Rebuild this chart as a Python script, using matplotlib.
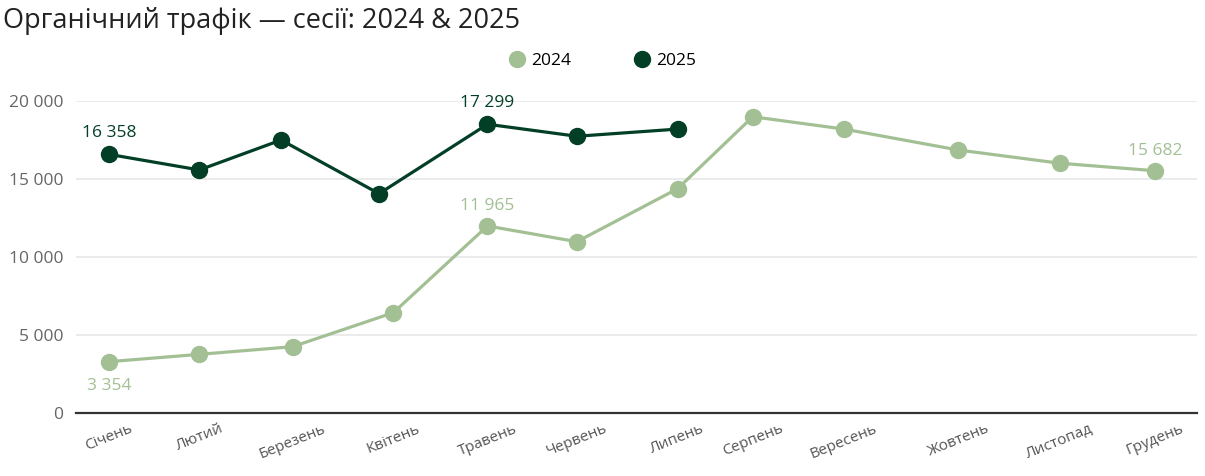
import matplotlib
matplotlib.use("Agg")
import matplotlib.pyplot as plt
from matplotlib.lines import Line2D
from matplotlib.ticker import FuncFormatter

plt.rcParams['font.family'] = ['Open Sans', 'DejaVu Sans']

# ---- data ----
months = ["Січень", "Лютий", "Березень", "Квітень", "Травень", "Червень",
          "Липень", "Серпень", "Вересень", "Жовтень", "Листопад", "Грудень"]
# position along the year (month units) at which each point was recorded
x2024 = [0.0, 0.95, 1.93, 2.99, 3.98, 4.92, 5.98, 6.77, 7.73, 8.93, 10.0, 11.0]
x2025 = [0.0, 0.95, 1.81, 2.84, 3.98, 4.92, 5.98]
s2024 = [3290, 3760, 4250, 6430, 11990, 10980, 14380, 18990, 18200, 16860, 16010, 15530]
s2025 = [16580, 15580, 17500, 14060, 18510, 17740, 18200]
# data labels shown on the chart (index, text)
lab2024_idx = [0, 4, 11]
lab2024_txt = ["3 354", "11 965", "15 682"]
lab2025_idx = [0, 4]
lab2025_txt = ["16 358", "17 299"]
yticks = [0, 5000, 10000, 15000, 20000]

c24 = "#a3c095"
c25 = "#023f26"

W, H = 1205, 476
fig = plt.figure(figsize=(W / 100, H / 100), dpi=100)
ax = fig.add_axes([76 / W, 1 - 413 / H, (1197 - 76) / W, (413 - 101) / H])

ax.plot(x2024, s2024, color=c24, lw=2.3, marker='o', ms=11.5, zorder=3, clip_on=False)
ax.plot(x2025, s2025, color=c25, lw=2.3, marker='o', ms=11.5, zorder=4, clip_on=False)

for i, t in zip(lab2024_idx, lab2024_txt):
    off = -24 if i == 0 else 20
    ax.annotate(t, (x2024[i], s2024[i]), xytext=(0, off * 0.72), textcoords='offset points',
                ha='center', va='center', color=c24, fontsize=12.5)
for i, t in zip(lab2025_idx, lab2025_txt):
    ax.annotate(t, (x2025[i], s2025[i]), xytext=(0, 21 * 0.72), textcoords='offset points',
                ha='center', va='center', color=c25, fontsize=12.5)

x0 = (76 - 109) / 95.09
x1 = (1197 - 109) / 95.09
ax.set_xlim(x0, x1)
ax.set_ylim(0, 20000)
ax.set_yticks(yticks)
ax.yaxis.set_major_formatter(FuncFormatter(lambda v, p: f"{int(v):,}".replace(",", " ")))
ax.set_xticks(x2024)
ax.set_xticklabels(months, rotation=22, ha='center', rotation_mode='default')

for s in ['top', 'right', 'left']:
    ax.spines[s].set_visible(False)
ax.spines['bottom'].set_color('#333333')
ax.spines['bottom'].set_linewidth(1.6)
ax.grid(axis='y', color='#ebebeb', lw=1.4)
ax.set_axisbelow(True)
ax.tick_params(axis='y', length=0, pad=9, labelsize=12.5, labelcolor='#666666')
ax.tick_params(axis='x', length=0, pad=6, labelsize=11, labelcolor='#555555')

fig.text(3 / W, 1 - 28 / H, "Органічний трафік — сесії: 2024 & 2025", fontsize=19.5,
         color='#222222', va='baseline', ha='left')

handles = [Line2D([], [], color=c24, marker='o', ls='none', ms=11.5),
           Line2D([], [], color=c25, marker='o', ls='none', ms=11.5)]
fig.legend(handles, ["2024", "2025"], loc='center', bbox_to_anchor=(602 / W, 1 - 61 / H),
           ncol=2, frameon=False, fontsize=12.5, handletextpad=0.3, columnspacing=3.6,
           handlelength=1.0, borderpad=0, borderaxespad=0)

fig.savefig("out.png", dpi=100)
